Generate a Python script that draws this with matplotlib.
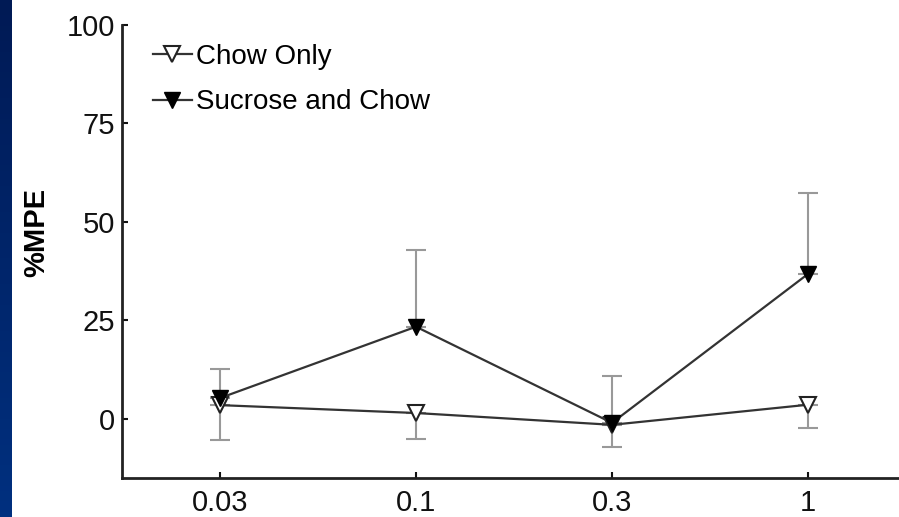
import matplotlib.pyplot as plt
import numpy as np
from matplotlib.colors import LinearSegmentedColormap

plt.rcParams['font.family'] = ['Liberation Sans', 'DejaVu Sans']

doses = ['0.03', '0.1', '0.3', '1']
chow = [3.5, 1.5, -1.5, 3.6]
chow_err = [8.8, 6.5, 5.6, 5.9]          # lower bars only
sucrose = [5.3, 23.4, -1.0, 36.8]
sucrose_err = [7.4, 19.6, 11.9, 20.6]    # upper bars only

fig = plt.figure(figsize=(8.99, 5.17), dpi=100)

# blue strip on the left edge
strip = fig.add_axes([0, 0, 12 / 899, 1])
grad = np.linspace(0, 1, 100).reshape(-1, 1)
cm = LinearSegmentedColormap.from_list('b', ['#001a55', '#00307f'])
strip.imshow(grad, aspect='auto', cmap=cm, extent=[0, 1, 0, 1], origin='upper')
strip.axis('off')

ax = fig.add_axes([122 / 899, 39 / 517, 784 / 899, 453 / 517])
x = np.arange(len(doses))

ax.errorbar(x, chow, yerr=[chow_err, [0] * 4], fmt='none', ecolor='#999999',
            elinewidth=1.5, capsize=7, capthick=1.5, zorder=1)
ax.errorbar(x, sucrose, yerr=[[0] * 4, sucrose_err], fmt='none', ecolor='#999999',
            elinewidth=1.5, capsize=7, capthick=1.5, zorder=1)

ax.plot(x, chow, color='#333333', lw=1.6, marker='v', ms=11,
        mfc='white', mec='#222222', mew=1.5, label='Chow Only', zorder=3)
ax.plot(x, sucrose, color='#333333', lw=1.6, marker='v', ms=11,
        mfc='black', mec='black', label='Sucrose and Chow', zorder=4)

ax.set_xlim(-0.5, 3.5)
ax.set_ylim(-15, 100)
ax.set_xticks(x)
ax.set_xticklabels(doses)
ax.set_yticks([0, 25, 50, 75, 100])
ax.tick_params(direction='in', length=4, width=1.5, labelsize=21, colors='#111111')
ax.tick_params(axis='x', pad=8)
ax.tick_params(axis='y', pad=5)
for s in ['top', 'right']:
    ax.spines[s].set_visible(False)
for s in ['left', 'bottom']:
    ax.spines[s].set_linewidth(2)
    ax.spines[s].set_color('#222222')

ax.set_ylabel('%MPE', fontsize=21, fontweight='bold')
ax.yaxis.set_label_coords((50 - 122) / 784, 0.541)

fig.legend(loc='upper left', bbox_to_anchor=(153 / 899, 1 - 44 / 517), frameon=False,
           fontsize=20, handlelength=1.4, handletextpad=0.15, labelspacing=0.7,
           borderpad=0, borderaxespad=0)

plt.savefig('out.png', dpi=100)
